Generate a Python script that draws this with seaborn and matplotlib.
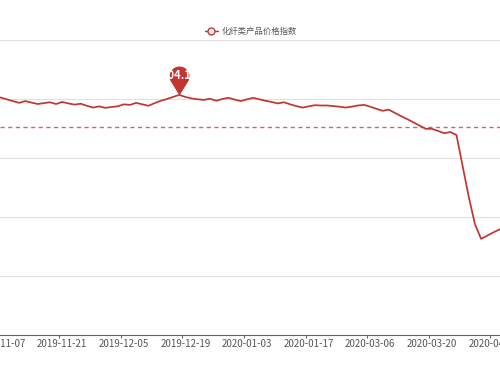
import matplotlib

matplotlib.use("Agg")
import matplotlib.pyplot as plt
import numpy as np
import pandas as pd
import seaborn as sns
from matplotlib.lines import Line2D
from matplotlib.path import Path

# daily index values, first one is the trading day before 2019-11-07
INDEX_VALUES = [
    104.12, 104.06, 104.00, 103.94, 103.88, 103.94, 103.89, 103.84, 103.87, 103.90,
    103.84, 103.91, 103.86, 103.82, 103.85, 103.78, 103.72, 103.76, 103.71, 103.74,
    103.76, 103.83, 103.81, 103.88, 103.83, 103.78, 103.87, 103.95, 104.01, 104.08,
    104.15, 104.08, 104.03, 104.00, 103.98, 104.02, 103.95, 104.01, 104.05, 103.99,
    103.94, 104.00, 104.05, 104.00, 103.95, 103.91, 103.86, 103.90, 103.83, 103.77,
    103.72, 103.76, 103.80, 103.79, 103.79, 103.77, 103.75, 103.72, 103.75, 103.79,
    103.81, 103.75, 103.68, 103.61, 103.65, 103.54, 103.43, 103.33, 103.22, 103.11,
    103.00, 103.00, 102.93, 102.85, 102.89, 102.79, 101.74, 100.69, 99.77, 99.27,
    99.38, 99.49, 99.59, 99.70, 99.81,
]
TICK_LABELS = [
    "2019-11-07", "2019-11-21", "2019-12-05", "2019-12-19", "2020-01-03",
    "2020-01-17", "2020-03-06", "2020-03-20", "2020-04-03",
]
FIRST_LABEL_POS = 1
LABEL_STEP = 10
AVERAGE_VALUE = 103.06
SERIES_NAME = "化纤类产品价格指数"

LINE_COLOR = "#c23531"

sns.set_theme(style="white")
plt.rcParams["font.family"] = ["Noto Sans CJK SC", "DejaVu Sans"]

df = pd.DataFrame({"pos": np.arange(len(INDEX_VALUES)), "value": INDEX_VALUES})

fig = plt.figure(figsize=(5, 3.75), dpi=100)
ax = fig.add_axes([0, 1 - 335.3 / 375, 1, 295 / 375])

sns.lineplot(data=df, x="pos", y="value", color=LINE_COLOR, linewidth=1.25, ax=ax, legend=False)

ax.axhline(AVERAGE_VALUE, color=LINE_COLOR, linewidth=1.0, alpha=0.75, dashes=(3, 2.5), zorder=2)

# max point pin
r, d = 10, 19
theta = np.arccos(r / d)
angles = np.linspace(-np.pi / 2 + theta, 3 * np.pi / 2 - theta, 40)
verts = [(r * np.cos(a), d + r * np.sin(a)) for a in angles] + [(0, 0), (r * np.cos(angles[0]), d + r * np.sin(angles[0]))]
codes = [Path.MOVETO] + [Path.LINETO] * (len(verts) - 2) + [Path.CLOSEPOLY]
pin = Path(verts, codes)

imax = int(df["value"].idxmax())
vmax = df["value"].max()
ax.plot(df["pos"][imax], vmax, marker=pin, markersize=2 * (d + r) * 0.72,
        color=LINE_COLOR, markeredgewidth=0, zorder=5, clip_on=False)
ax.annotate(f"{vmax:.2f}", xy=(df["pos"][imax], vmax), xytext=(0, d * 0.72),
            textcoords="offset points", ha="center", va="center",
            color="white", fontsize=8, fontweight="bold", zorder=6)

label_pos = [FIRST_LABEL_POS + LABEL_STEP * k for k in range(len(TICK_LABELS))]
ax.set_xticks(label_pos)
ax.set_xticklabels(TICK_LABELS)
ax.set_xticks([p - 0.5 for p in label_pos], minor=True)
ax.tick_params(axis="x", which="major", length=0, pad=2.5, labelsize=7, labelcolor="#555555")
ax.tick_params(axis="x", which="minor", length=2.5, width=0.8, color="#666666", bottom=True)
ax.tick_params(axis="y", left=False, labelleft=False)

ax.set_xlim(0.9026, 82.07)
ax.set_ylim(96, 106)
ax.set_yticks(np.arange(96, 107, 2))
ax.grid(axis="y", color="#e0e0e0", linewidth=0.8)
ax.grid(axis="x", visible=False)
ax.set_xlabel("")
ax.set_ylabel("")

for side in ["top", "left", "right"]:
    ax.spines[side].set_visible(False)
ax.spines["bottom"].set_color("#666666")
ax.spines["bottom"].set_linewidth(0.8)

handle = Line2D([], [], color=LINE_COLOR, linewidth=1.0, marker="o", markersize=5,
                markerfacecolor="white", markeredgecolor=LINE_COLOR, markeredgewidth=1.0)
fig.legend([handle], [SERIES_NAME], loc="center", bbox_to_anchor=(251 / 500, 1 - 31 / 375),
           frameon=False, fontsize=6, labelcolor="#555555", handlelength=1.6,
           handletextpad=0.5, borderpad=0)

fig.savefig("out.png", dpi=100)
